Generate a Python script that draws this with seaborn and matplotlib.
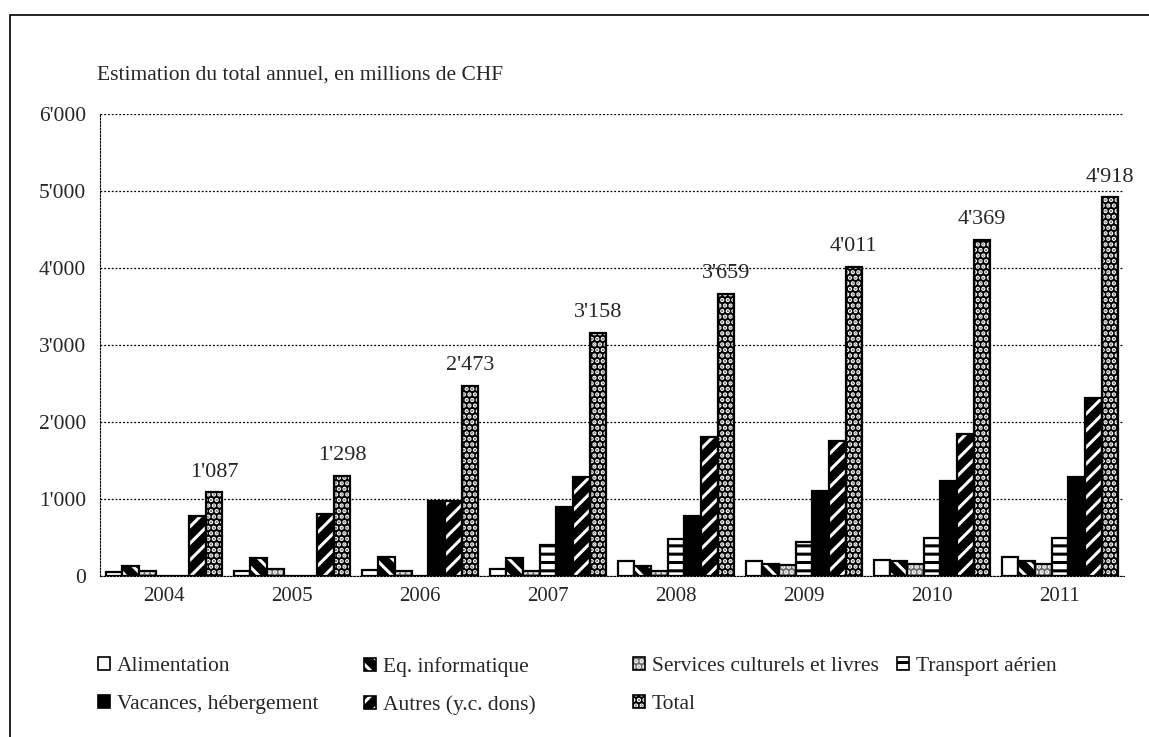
import numpy as np
import pandas as pd
import matplotlib
matplotlib.use("Agg")
import matplotlib.pyplot as plt
import seaborn as sns
from matplotlib.patches import Patch, Rectangle

years = ["2004", "2005", "2006", "2007", "2008", "2009", "2010", "2011"]
categories = ["Alimentation", "Eq. informatique", "Services culturels et livres",
              "Transport aérien", "Vacances, hébergement", "Autres (y.c. dons)", "Total"]
alimentation = [50, 70, 80, 90, 200, 200, 210, 250]
eq_informatique = [130, 230, 250, 230, 130, 160, 200, 200]
services = [60, 90, 70, 60, 70, 140, 150, 150]
transport = [0, 0, 0, 400, 480, 440, 500, 500]
vacances = [0, 0, 970, 900, 780, 1110, 1240, 1280]
autres = [780, 810, 970, 1290, 1800, 1750, 1840, 2310]
total = [1087, 1298, 2473, 3158, 3659, 4011, 4369, 4918]
yticks = [0, 1000, 2000, 3000, 4000, 5000, 6000]
title = "Estimation du total annuel, en millions de CHF"

series = [alimentation, eq_informatique, services, transport, vacances, autres, total]
df = pd.DataFrame({
    "year": np.repeat([years], len(categories), axis=0).ravel(),
    "cat": np.repeat(categories, len(years)),
    "value": np.concatenate(series),
})

sns.set_style("white")
plt.rcParams["font.family"] = ["Liberation Serif", "DejaVu Serif"]
plt.rcParams["hatch.linewidth"] = 2.2

fig = plt.figure(figsize=(11.49, 7.37), dpi=100)
ax = fig.add_axes([100 / 1149, 1 - 576 / 737, 1024 / 1149, (576 - 114) / 737])

sns.barplot(data=df, x="year", y="value", hue="cat", order=years, hue_order=categories,
            width=0.91, legend=False, ax=ax, saturation=1)

# styles: (facecolor, hatch, hatchcolor)
styles = [
    ("white", None, "black"),
    ("black", "\\\\", "white"),
    ("#6e6e6e", "...", "white"),
    ("white", "--", "black"),
    ("black", None, "black"),
    ("black", "//", "white"),
    ("black", "...", "white"),
]

def style_patch(p, st, lw=1.6):
    fc, h, hc = st
    p.set_facecolor(fc)
    p.set_edgecolor("black")
    p.set_linewidth(lw)
    if h:
        p.set_hatch(h)
        p._hatch_color = matplotlib.colors.to_rgba(hc)

for cont, st in zip(ax.containers, styles):
    for p in cont:
        style_patch(p, st)

# total labels
for p, v in zip(ax.containers[-1], total):
    s = f"{v:,}".replace(",", "'")
    ax.text(p.get_x() + p.get_width() / 2, v + 140, s, ha="center", va="bottom", fontsize=16)

ax.set_ylim(0, 6000)
ax.set_xlim(-0.5, len(years) - 0.5)
ax.set_yticks(yticks)
ax.set_yticklabels([f"{t:,}".replace(",", "'") for t in yticks], fontsize=15.5)
ax.tick_params(axis="y", length=0, pad=10)
ax.tick_params(axis="x", length=0, pad=8, labelsize=15)
ax.set_xticks(np.arange(len(years)), labels=years)
ax.set_xticks(np.arange(len(years) + 1) - 0.5, minor=True)
ax.tick_params(axis="x", which="minor", length=6, direction="out", color="black", width=1)
ax.set_xlabel("")
ax.set_ylabel("")
ax.yaxis.grid(True, linestyle=(0, (1.5, 1.5)), color="black", linewidth=0.9)
ax.set_axisbelow(True)
for side in ["top", "right"]:
    ax.spines[side].set_visible(False)
for side in ["bottom", "left"]:
    ax.spines[side].set_linestyle((0, (1.5, 1.5)))
    ax.spines[side].set_color("black")

fig.text(97 / 1149, 1 - 75 / 737, title, fontsize=15.5, va="center", ha="left")

# legend: 4 equal-width columns, entries filled row by row
handles = []
for c, st in zip(categories, styles):
    fc, h, hc = st
    hp = Patch(facecolor=fc, edgecolor="black", linewidth=1.2, hatch=h, label=c)
    if h:
        hp._hatch_color = matplotlib.colors.to_rgba(hc)
    handles.append(hp)
col_x = [94, 360, 629, 893]
for ci, x0 in enumerate(col_x):
    idx = [i for i in (ci, ci + 4) if i < len(categories)]
    fig.legend([handles[i] for i in idx], [categories[i] for i in idx],
               ncol=1, loc="upper left", bbox_to_anchor=(x0 / 1149, 1 - 653 / 737),
               frameon=False, fontsize=15.5, handlelength=0.55, handleheight=0.55,
               handletextpad=0.3, labelspacing=0.85, borderpad=0.2, borderaxespad=0)

# figure border
fig.add_artist(Rectangle((10 / 1149, -0.01), 1.02, 1 - 15 / 737 + 0.01, transform=fig.transFigure,
                         fill=False, edgecolor="black", linewidth=1.2))

fig.savefig("out.png", dpi=100)
